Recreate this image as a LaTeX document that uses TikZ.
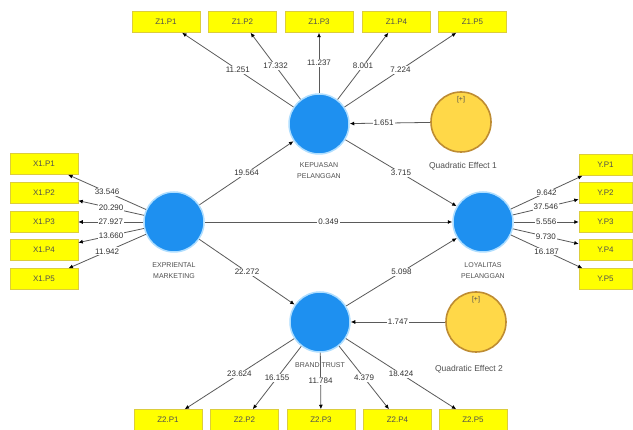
\documentclass[tikz,border=0pt]{standalone}
\usepackage{fontspec}
\setmainfont{Liberation Sans}
\usetikzlibrary{arrows.meta}
\definecolor{lvblue}{RGB}{30,144,240}
\definecolor{halo}{RGB}{175,222,255}
\definecolor{indfill}{RGB}{255,255,0}
\definecolor{inddraw}{RGB}{220,205,60}
\definecolor{qfill}{RGB}{255,216,72}
\definecolor{qdraw}{RGB}{190,140,50}
\definecolor{edgec}{RGB}{90,90,90}
\definecolor{txt}{RGB}{80,80,80}
\definecolor{numtxt}{RGB}{50,50,50}
\begin{document}
\begin{tikzpicture}[x=1pt,y=-1pt,
 lv/.style={circle,fill=lvblue,draw=halo,line width=1.5pt,minimum size=60pt,inner sep=0},
 ind/.style={rectangle,fill=indfill,draw=inddraw,line width=0.5pt,minimum width=68pt,minimum height=21pt,inner sep=0,font=\fontsize{8}{9}\selectfont,text=txt},
 indr/.style={ind,minimum width=53pt},
 qe/.style={circle,fill=qfill,draw=qdraw,line width=1.6pt,minimum size=60pt,inner sep=0},
 lvlabel/.style={align=center,font=\fontsize{7}{11}\selectfont,text=txt,inner sep=0},
 qlabel/.style={font=\fontsize{8.5}{10}\selectfont,text=txt,inner sep=0},
 num/.style={fill=white,inner sep=1pt,font=\fontsize{8}{9}\selectfont,text=numtxt},
 conn/.style={draw=edgec,line width=0.8pt,-{Latex[length=4.5pt,width=4pt,color=black]}}]
\useasboundingbox[fill=white] (0,0) rectangle (633,430);

% latent variables
\node[lv] (exp) at (174,222) {};
\node[lv] (kep) at (319,124) {};
\node[lv] (loy) at (483,222) {};
\node[lv] (bt)  at (320,322) {};
\node[qe] (q1) at (461,122) {};
\node[qe] (q2) at (476,322) {};
\node[font=\fontsize{7}{8}\selectfont,text=txt] (q1p) at (461,100) {[+]};
\node[font=\fontsize{7}{8}\selectfont,text=txt] (q2p) at (476,300) {[+]};

% latent labels
\node[lvlabel,anchor=north] (expl) at (174,262) {EXPRIENTAL\\MARKETING};
\node[lvlabel,anchor=north] (kepl) at (319,162) {KEPUASAN\\PELANGGAN};
\node[lvlabel,anchor=north] (loyl) at (483,262) {LOYALITAS\\PELANGGAN};
\node[lvlabel] (btl) at (320,365) {BRAND TRUST};
\node[qlabel] (q1l) at (463,166) {Quadratic Effect 1};
\node[qlabel] (q2l) at (469,369) {Quadratic Effect 2};

% indicators
\node[ind] (x1) at (44,164) {X1.P1};
\node[ind] (x2) at (44,193) {X1.P2};
\node[ind] (x3) at (44,222) {X1.P3};
\node[ind] (x4) at (44,250) {X1.P4};
\node[ind] (x5) at (44,279) {X1.P5};
\node[indr] (y1) at (605.5,165) {Y.P1};
\node[indr] (y2) at (605.5,193) {Y.P2};
\node[indr] (y3) at (605.5,222) {Y.P3};
\node[indr] (y4) at (605.5,250) {Y.P4};
\node[indr] (y5) at (605.5,279) {Y.P5};
\node[ind] (za1) at (166,22) {Z1.P1};
\node[ind] (za2) at (242.5,22) {Z1.P2};
\node[ind] (za3) at (319,22) {Z1.P3};
\node[ind] (za4) at (396.5,22) {Z1.P4};
\node[ind] (za5) at (472.5,22) {Z1.P5};
\node[ind] (zb1) at (168,420) {Z2.P1};
\node[ind] (zb2) at (244.5,420) {Z2.P2};
\node[ind] (zb3) at (321,420) {Z2.P3};
\node[ind] (zb4) at (397.5,420) {Z2.P4};
\node[ind] (zb5) at (473,420) {Z2.P5};

% outer loadings
\draw[conn] (exp) -- node[num]{33.546} (x1);
\draw[conn] (exp) -- node[num]{20.290} (x2);
\draw[conn] (exp) -- node[num]{27.927} (x3);
\draw[conn] (exp) -- node[num]{13.660} (x4);
\draw[conn] (exp) -- node[num]{11.942} (x5);
\draw[conn] (loy) -- node[num]{9.642} (y1);
\draw[conn] (loy) -- node[num]{37.546} (y2);
\draw[conn] (loy) -- node[num]{5.556} (y3);
\draw[conn] (loy) -- node[num]{9.730} (y4);
\draw[conn] (loy) -- node[num]{16.187} (y5);
\draw[conn] (kep) -- node[num]{11.251} (za1);
\draw[conn] (kep) -- node[num]{17.332} (za2);
\draw[conn] (kep) -- node[num]{11.237} (za3);
\draw[conn] (kep) -- node[num]{8.001} (za4);
\draw[conn] (kep) -- node[num]{7.224} (za5);
\draw[conn] (bt) -- node[num]{23.624} (zb1);
\draw[conn] (bt) -- node[num]{16.155} (zb2);
\draw[conn] (bt) -- node[num]{11.784} (zb3);
\draw[conn] (bt) -- node[num]{4.379} (zb4);
\draw[conn] (bt) -- node[num]{18.424} (zb5);

% structural paths
\draw[conn] (exp) -- node[num]{19.564} (kep);
\draw[conn] (exp) -- node[num]{0.349} (loy);
\draw[conn] (exp) -- node[num]{22.272} (bt);
\draw[conn] (kep) -- node[num]{3.715} (loy);
\draw[conn] (bt) -- node[num]{5.098} (loy);
\draw[conn] (q1) -- node[num,pos=0.58]{1.651} (kep);
\draw[conn] (q2) -- node[num]{1.747} (bt);
\end{tikzpicture}
\end{document}
